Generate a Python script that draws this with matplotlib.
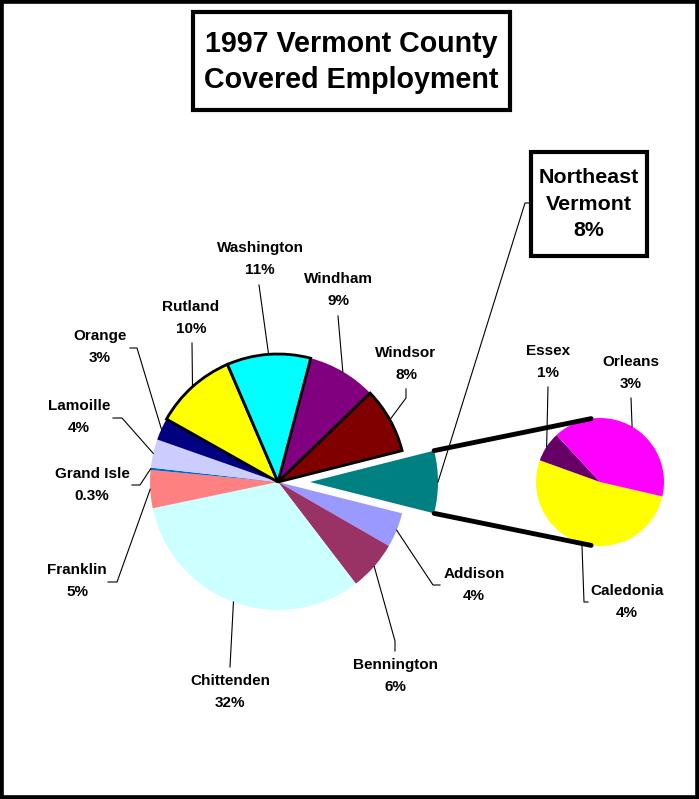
import numpy as np
import matplotlib
matplotlib.use('Agg')
import matplotlib.pyplot as plt
from matplotlib.patches import Rectangle

W, H = 699, 799
FONT = 'Liberation Sans'

# main pie: share of statewide covered employment (%), clockwise from the
# Northeast slice; the Northeast Vermont slice is split out in the small pie
counties = ['Addison', 'Bennington', 'Chittenden', 'Franklin', 'Grand Isle',
            'Lamoille', 'Orange', 'Rutland', 'Washington', 'Windham', 'Windsor']
county_shares = [4.4, 6.3, 32.2, 4.8, 0.3, 3.6, 2.8, 10.4, 10.6, 8.7, 8.3]
county_pct_labels = ['4%', '6%', '32%', '5%', '0.3%', '4%', '3%', '10%',
                     '11%', '9%', '8%']
county_colors = ['#9999FF', '#993366', '#CCFFFF', '#FF8080', '#0066CC',
                 '#CCCCFF', '#000080', '#FFFF00', '#00FFFF', '#800080',
                 '#800000']
outlined = ['Rutland', 'Washington', 'Windsor']

ne_name = 'Northeast\nVermont'
ne_counties = ['Caledonia', 'Essex', 'Orleans']
ne_shares = [4.1, 0.6, 3.2]
ne_pct_labels = ['4%', '1%', '3%']
ne_colors = ['#FFFF00', '#660066', '#FF00FF']
ne_color = '#008080'

# layout, in pixels from the top-left corner of the picture
MAIN_C, MAIN_R = (278, 482), 128
SUB_C, SUB_R = (600, 482), 64
NE_EXPLODE = 0.25          # fraction of the main radius
TITLE_BOX = (193, 12, 510, 110)
NE_BOX = (531, 152, 647, 256)

# label centre and leader points (label side first) for each slice
label_layout = {
    'Addison':    ((474, 585), [(440, 585), (433, 585)]),
    'Bennington': ((395, 676), [(395, 651), (395, 641)]),
    'Chittenden': ((230, 692), [(230, 667)]),
    'Franklin':   ((77, 581),  [(108, 582), (117, 582)]),
    'Grand Isle': ((92, 485),  [(132, 485), (140, 485)]),
    'Lamoille':   ((79, 417),  [(113, 418), (122, 418)]),
    'Orange':     ((100, 347), [(130, 348), (137, 348)]),
    'Rutland':    ((191, 318), [(192, 343)]),
    'Washington': ((260, 259), [(259, 285)]),
    'Windham':    ((338, 290), [(338, 316)]),
    'Windsor':    ((406, 364), [(406, 389), (406, 398)]),
    'Caledonia':  ((627, 602), [(588, 602), (584, 602)]),
    'Essex':      ((548, 362), [(548, 387)]),
    'Orleans':    ((631, 373), [(631, 398)]),
}


def px(x, y):
    return x, H - y


def mid_point(w):
    a = np.deg2rad((w.theta1 + w.theta2) / 2)
    return w.center[0] + w.r * np.cos(a), w.center[1] + w.r * np.sin(a)


def put_label(ax, name, pct, wedge):
    (tx, ty), pts = label_layout[name]
    ax.text(*px(tx, ty), f'{name}\n{pct}', ha='center', va='center',
            fontsize=11, fontweight='bold', family=FONT, linespacing=1.7)
    xs = [px(*p)[0] for p in pts]
    ys = [px(*p)[1] for p in pts]
    mx, my = mid_point(wedge)
    ax.plot(xs + [mx], ys + [my], color='black', lw=0.8)


def draw_box(ax, box, lw=3):
    x0, y0, x1, y1 = box
    ax.add_patch(Rectangle(px(x0, y1), x1 - x0, y1 - y0, facecolor='white',
                           edgecolor='black', linewidth=lw, zorder=5))


fig = plt.figure(figsize=(W / 100, H / 100), dpi=100)
ax = fig.add_axes([0, 0, 1, 1])

total = sum(county_shares) + sum(ne_shares)
ne_total = sum(ne_shares)

main_vals = county_shares + [ne_total]
main_cols = county_colors + [ne_color]
explode = [0] * len(county_shares) + [NE_EXPLODE * MAIN_R]
wedges, _ = ax.pie(main_vals, colors=main_cols, explode=explode,
                   startangle=-ne_total / total * 180, counterclock=False,
                   center=px(*MAIN_C), radius=MAIN_R,
                   wedgeprops=dict(edgecolor='none', linewidth=0))
for name, w in zip(counties, wedges):
    if name in outlined:
        w.set_edgecolor('black')
        w.set_linewidth(2)
        w.set_zorder(3)

sub_start = -13
sub_wedges, _ = ax.pie(ne_shares, colors=ne_colors, startangle=sub_start,
                       counterclock=False, center=px(*SUB_C), radius=SUB_R,
                       wedgeprops=dict(edgecolor='none', linewidth=0))

# connector lines from the split slice to the small pie
ne_w = wedges[-1]
for th_main, th_sub in [(ne_w.theta2, 98), (ne_w.theta1, -98)]:
    a, b = np.deg2rad(th_main), np.deg2rad(th_sub)
    x0 = ne_w.center[0] + ne_w.r * np.cos(a)
    y0 = ne_w.center[1] + ne_w.r * np.sin(a)
    x1 = px(*SUB_C)[0] + SUB_R * np.cos(b)
    y1 = px(*SUB_C)[1] + SUB_R * np.sin(b)
    ax.plot([x0, x1], [y0, y1], color='black', lw=3.5,
            solid_capstyle='round', zorder=4)

for name, pct, w in zip(counties, county_pct_labels, wedges):
    put_label(ax, name, pct, w)
for name, pct, w in zip(ne_counties, ne_pct_labels, sub_wedges):
    put_label(ax, name, pct, w)

# Northeast Vermont boxed label
draw_box(ax, NE_BOX)
ne_pct = f'{ne_total:.0f}%'
ax.text(*px((NE_BOX[0] + NE_BOX[2]) / 2, 204), f'{ne_name}\n{ne_pct}',
        ha='center', va='center', fontsize=15.4, fontweight='bold',
        family=FONT, linespacing=1.5, zorder=6)
mx, my = mid_point(ne_w)
ax.plot([px(530, 203)[0], px(525, 203)[0], mx],
        [px(530, 203)[1], px(525, 203)[1], my], color='black', lw=0.8)

# title box
draw_box(ax, TITLE_BOX)
ax.text(*px((TITLE_BOX[0] + TITLE_BOX[2]) / 2, 62),
        '1997 Vermont County\nCovered Employment',
        ha='center', va='center', fontsize=20.6, fontweight='bold',
        family=FONT, linespacing=1.35, zorder=6)

ax.set_xlim(0, W)
ax.set_ylim(0, H)
ax.set_aspect('equal')
ax.set_axis_off()

fig.patches.append(Rectangle((0, 0), 1, 1, transform=fig.transFigure,
                             fill=False, edgecolor='black', linewidth=5.5))

fig.savefig('out.png', dpi=100)
